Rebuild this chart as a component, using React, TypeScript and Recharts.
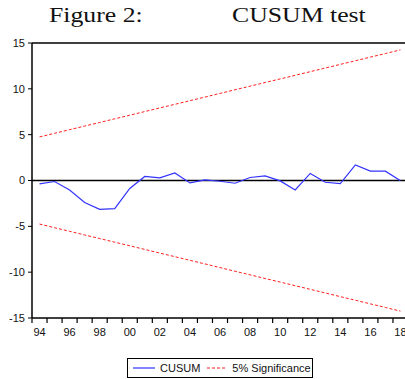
import React from 'react';
import { LineChart, Line, XAxis, YAxis, ReferenceLine } from 'recharts';

const years = [
  1994, 1995, 1996, 1997, 1998, 1999, 2000, 2001, 2002, 2003, 2004, 2005, 2006,
  2007, 2008, 2009, 2010, 2011, 2012, 2013, 2014, 2015, 2016, 2017, 2018,
];
const cusum = [
  -0.37, -0.11, -1.03, -2.4, -3.14, -3.06, -0.87, 0.44, 0.28, 0.83, -0.26, 0.07, -0.08,
  -0.3, 0.33, 0.5, -0.04, -1.03, 0.77, -0.19, -0.33, 1.7, 1.02, 1.02, -0.04,
];
const upper = [
  4.75, 5.15, 5.54, 5.94, 6.33, 6.73, 7.12, 7.52, 7.92, 8.31, 8.71, 9.1, 9.5,
  9.9, 10.29, 10.69, 11.08, 11.48, 11.87, 12.27, 12.67, 13.06, 13.46, 13.85, 14.25,
];
const lower = [
  -4.75, -5.15, -5.54, -5.94, -6.33, -6.73, -7.12, -7.52, -7.92, -8.31, -8.71, -9.1, -9.5,
  -9.9, -10.29, -10.69, -11.08, -11.48, -11.87, -12.27, -12.67, -13.06, -13.46, -13.85, -14.25,
];
const yTicks = [-15, -10, -5, 0, 5, 10, 15];
const labelYears = [1994, 1996, 1998, 2000, 2002, 2004, 2006, 2008, 2010, 2012, 2014, 2016, 2018];

const data = years.map((year, i) => ({ year, cusum: cusum[i], upper: upper[i], lower: lower[i] }));

// tick marks sit on the year boundaries, labels on the observations
const boundaries = [...years.map((y) => y - 0.5), years[years.length - 1] + 0.5];
const xTicks = [...boundaries, ...labelYears].sort((a, b) => a - b);

function YearTick({ x, y, payload }: any) {
  const v = payload.value;
  if (!Number.isInteger(v)) {
    return <line x1={x} x2={x} y1={y} y2={y + 5} stroke="#000" strokeWidth={1.2} />;
  }
  return (
    <text x={x} y={y + 18} textAnchor="middle" fontSize={11} fill="#111">
      {String(v % 100).padStart(2, '0')}
    </text>
  );
}

export default function App() {
  return (
    <div
      style={{
        position: 'absolute',
        left: 0,
        top: 0,
        width: 405,
        height: 379,
        overflow: 'hidden',
        background: '#fff',
        fontFamily: '"Liberation Sans", Arial, sans-serif',
      }}
    >
      {/* title */}
      <div
        style={{
          position: 'absolute',
          top: 4,
          left: 0,
          width: 405,
          fontFamily: '"Liberation Serif", "Times New Roman", serif',
          fontSize: 22,
          lineHeight: '22px',
          color: '#111',
        }}
      >
        <span style={{ position: 'absolute', left: 49, transform: 'scaleX(1.17)', transformOrigin: 'left' }}>
          Figure 2:
        </span>
        <span style={{ position: 'absolute', left: 232, transform: 'scaleX(1.17)', transformOrigin: 'left' }}>
          CUSUM test
        </span>
      </div>

      <div style={{ position: 'absolute', left: 0, top: 0 }}>
        <LineChart width={420} height={345} data={data} margin={{ top: 43, right: 12, left: 0, bottom: 0 }}>
          <XAxis
            dataKey="year"
            type="number"
            domain={[1993.5, 2018.5]}
            ticks={xTicks}
            interval={0}
            tickSize={0}
            tickMargin={0}
            tickLine={false}
            tick={<YearTick />}
            height={27}
            axisLine={{ stroke: '#000', strokeWidth: 1.5 }}
          />
          <YAxis
            type="number"
            domain={[-15, 15]}
            ticks={yTicks}
            interval={0}
            width={32}
            tickSize={4}
            tickMargin={3}
            tickLine={{ stroke: '#000' }}
            axisLine={{ stroke: '#000', strokeWidth: 1.5 }}
            tick={{ fontSize: 11, fill: '#111' }}
          />
          <ReferenceLine y={15} stroke="#000" strokeWidth={1.5} />
          <ReferenceLine y={0} stroke="#000" strokeWidth={1.5} />
          <Line
            dataKey="upper"
            type="linear"
            stroke="#ff2020"
            strokeWidth={1}
            strokeDasharray="3 2"
            dot={false}
            isAnimationActive={false}
          />
          <Line
            dataKey="lower"
            type="linear"
            stroke="#ff2020"
            strokeWidth={1}
            strokeDasharray="3 2"
            dot={false}
            isAnimationActive={false}
          />
          <Line
            dataKey="cusum"
            type="linear"
            stroke="#3333ff"
            strokeWidth={1.2}
            dot={false}
            isAnimationActive={false}
          />
        </LineChart>
      </div>

      {/* legend */}
      <div
        style={{
          position: 'absolute',
          left: 127,
          top: 358,
          width: 186,
          height: 20,
          boxSizing: 'border-box',
          border: '1px solid #000',
          display: 'flex',
          alignItems: 'center',
          fontSize: 11,
          color: '#111',
          paddingLeft: 5,
        }}
      >
        <svg width={22} height={4} style={{ marginRight: 5 }}>
          <line x1={0} x2={22} y1={2} y2={2} stroke="#3333ff" strokeWidth={1.2} />
        </svg>
        <span>CUSUM</span>
        <svg width={20} height={4} style={{ marginLeft: 7, marginRight: 5 }}>
          <line x1={0} x2={20} y1={2} y2={2} stroke="#ff2020" strokeWidth={1} strokeDasharray="3 2" />
        </svg>
        <span>5% Significance</span>
      </div>
    </div>
  );
}
